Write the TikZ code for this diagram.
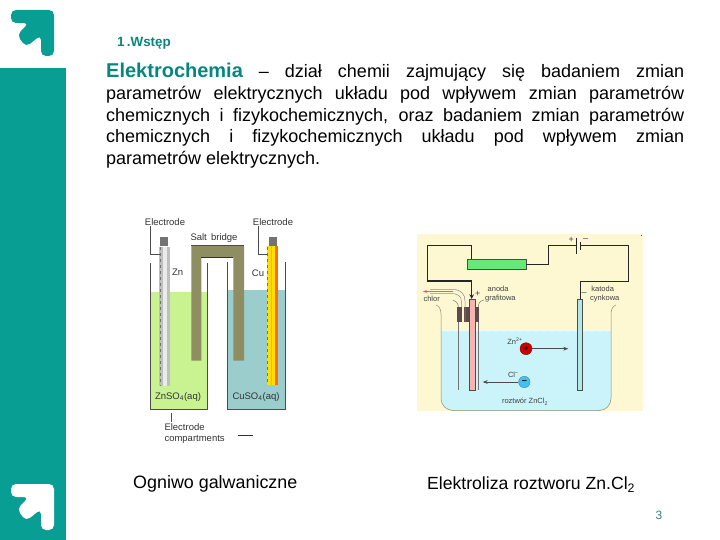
\documentclass[tikz,border=0pt]{standalone}
\usepackage{fontspec}
\setmainfont{Liberation Sans}
\usepackage{xcolor}
\usetikzlibrary{arrows.meta,decorations.pathmorphing}
\definecolor{tealbar}{HTML}{089E94}
\definecolor{zngreen}{HTML}{C9F291}
\definecolor{cublue}{HTML}{9BCDCD}
\definecolor{bridgeolive}{HTML}{8E8E62}
\definecolor{paleyellow}{HTML}{FDF8D2}
\definecolor{waterblue}{HTML}{CBF4FA}
\definecolor{boxgreen}{HTML}{66E87A}
\definecolor{anodepink}{HTML}{F6B4B0}
\definecolor{cathodecyan}{HTML}{B2E8E8}
\definecolor{stopperbrown}{HTML}{5E4A4A}
\definecolor{beakerline}{HTML}{8C8C70}
\newcommand{\fs}[1]{\fontsize{#1}{#1}\selectfont}
\begin{document}
\begin{tikzpicture}[x=1pt,y=-1pt,>=stealth,
  smalllabel/.style={inner sep=0pt,font=\fs{9.5},text=black!80},
  tinylabel/.style={inner sep=0pt,font=\fs{7.5},text=black!75},
  caption/.style={inner sep=0pt,font=\fs{17.9}},
  wire/.style={line width=1.1pt,black!85},
  thinwire/.style={line width=0.6pt,black!70},
  beaker/.style={line width=0.5pt,beakerline}]
\useasboundingbox (0,0) rectangle (720,540);
% side bar and arrows
\fill[tealbar](0,68)--(66,68)--(66,540)--(0,540)--cycle;
\fill[tealbar,rounded corners=5pt](11,10)--(54,10)--(54,56)--(41,56)--(41,35)--(26,47)--(17,35)--(29,23)--(11,23)--cycle;
\fill[white,rounded corners=5pt](11,484)--(54,484)--(54,530)--(41,530)--(41,509)--(26,521)--(17,509)--(29,497)--(11,497)--cycle;
\node[inner sep=0pt,anchor=west,text=tealbar!85!black,font=\fs{13.4}\bfseries](section) at (117,43.5){1\,.Wstęp};
% main paragraph
\node[inner sep=0pt,anchor=north west,text width=578pt,align=justify,font=\fontsize{18}{21.7}\selectfont](para) at (106,63)
{{\color{tealbar!85!black}\fontsize{20}{21.7}\selectfont\bfseries Elektrochemia} – dział chemii zajmujący się badaniem zmian
parametrów elektrycznych układu pod wpływem zmian parametrów
chemicznych i fizykochemicznych, oraz badaniem zmian parametrów
chemicznych i fizykochemicznych układu pod wpływem zmian
parametrów elektrycznych.};
% galvanic cell
\fill[zngreen](150,292)rectangle(207.7,409);
\fill[cublue](227,290)rectangle(285,409);
\draw[thinwire](150,263)--(150,409)--(207.7,409)--(207.7,263);
\draw[thinwire](227,262)--(227,409)--(285,409)--(285,262);
\fill[bridgeolive](191.3,360.7)--(191.3,245.7)--(244,245.7)--(244,360.7)--(233.3,360.7)--(233.3,257.3)--(201.3,257.3)--(201.3,360.7)--cycle;
\draw[black!70,line width=0.8pt](191.3,245.7)--(244,245.7);
\draw[black!80,line width=0.8pt](201.3,257.3)--(233.3,257.3);
\fill[black!25](159.3,247)rectangle(170,386);
\fill[black!8](163,247)rectangle(167,386);
\draw[black!55,dashed,line width=0.6pt](160,247)--(160,386);
\fill[black!55](160,237)rectangle(168,246);
\fill[orange!85!red](266.7,246)rectangle(278.3,385);
\fill[yellow!80!orange](266.7,246)rectangle(275,385);
\fill[orange!60!yellow](270.5,246)rectangle(272,385);
\draw[black!55,dashed,line width=0.6pt](267,247)--(267,385);
\fill[black!55](269,237)rectangle(277,246);
\coordinate(znwire) at (160,254);
\coordinate(cuwire) at (267,254);
\node[smalllabel](znelectrode) at (165,222){Electrode};
\node[smalllabel](cuelectrode) at (273,222){Electrode};
\node[smalllabel](saltbridge) at (214,238){Salt\, bridge};
\node[smalllabel](znlabel) at (177.7,272.7){Zn};
\node[smalllabel](culabel) at (258,273){Cu};
\node[smalllabel](znsalt) at (178,396.7){ZnSO\textsubscript{4}(aq)};
\node[smalllabel](cusalt) at (256,396.7){CuSO\textsubscript{4}(aq)};
\node[smalllabel,anchor=west,align=left,font=\fontsize{9.5}{11}\selectfont](compartments) at (164.3,433.5){Electrode\\compartments};
\draw[thinwire](150.7,226)|-(znwire);
\draw[thinwire](258.3,226)|-(cuwire);
\draw[thinwire](171,413)--(171,422);
\draw[line width=0.7pt,black!80](238,435.5)--(253,435.5);
% electrolysis
\fill[paleyellow](417,234)rectangle(643,411);
\fill[waterblue](441,331)[rounded corners=12pt]--(441,410.5)--(611,410.5)[sharp corners]--(611,331)--cycle;
\draw[white!60!waterblue,line width=1.2pt,decorate,decoration={snake,amplitude=0.5pt,segment length=8pt}](441,330.5)--(611,330.5);
\draw[beaker](436,305) .. controls (439,306) and (441,309) .. (441,314)[rounded corners=12pt]--(441,410.5)--(611,410.5)[sharp corners]--(611,314) .. controls (611,309) and (613,306) .. (616,305);
\node[draw=black!70,line width=0.4pt,fill=boxgreen,inner sep=0pt,minimum width=58.7pt,minimum height=9.4pt,anchor=north west](rheostat) at (467.3,259.3){};
\coordinate(wiretop) at (471.7,245.7);
\coordinate(anodewire) at (471.7,299);
\coordinate(cathodewire) at (580,299);
\coordinate(plateplus) at (576.7,245.7);
\coordinate(plateminus) at (580.7,245.7);
\draw[wire,->](rheostat.north west-|wiretop)|-(427.3,245.7)--(427.3,281)-|(anodewire);
\draw[wire](rheostat.east)-|(548.3,245.7)--(plateplus);
\draw[thinwire,line width=0.8pt,black!85](plateminus)--(628.7,245.7)--(628.7,281)-|(cathodewire);
\draw[line width=0.9pt,black!85](576.7,237.7)--(576.7,254.3);
\draw[line width=1.2pt,black!85](580.7,241.7)--(580.7,250);
\fill[stopperbrown](457,307)rectangle(478.5,321.7);
\fill[paleyellow](461.7,307)rectangle(464,321.7);
\draw[beaker,black!55](458.3,321.7)--(458.3,390);
\draw[beaker,black!55](478.3,321.7)--(478.3,390);
\draw[beaker,black!45](430,289.5)--(453,289.5) .. controls (461,289.5) and (465,294) .. (465,301)--(465,322);
\draw[beaker,black!45](430,293.5)--(450,293.5) .. controls (458,293.5) and (461.5,296) .. (461.5,302)--(461.5,307);
\draw[beaker,black!55](453,300) .. controls (456,301) and (458.3,303) .. (458.3,307);
\draw[beaker,black!55](478.3,307) .. controls (478.3,303) and (480,301) .. (484,300);
\draw[magenta!70,line width=0.9pt,-{Stealth[length=4pt]}](453,291.5)--(423,291.5);
\node[draw=black!70,line width=0.6pt,fill=anodepink,inner sep=0pt,minimum width=5.7pt,minimum height=90.7pt,anchor=north west](anode) at (469.3,299){};
\node[draw=black!70,line width=0.6pt,fill=cathodecyan,inner sep=0pt,minimum width=5.7pt,minimum height=90.7pt,anchor=north west](cathode) at (576.7,299){};
\node[circle,fill=red!80!black,draw=red!60!black,inner sep=0pt,minimum size=12pt,font=\fs{9}\bfseries](zincion) at (526,348.7){+};
\node[circle,fill=cyan!75!white,draw=cyan!60!black,inner sep=0pt,minimum size=11.4pt,font=\fs{9}\bfseries](chloride) at (524.3,382){–};
\coordinate(zinctip) at (568.3,348.7);
\coordinate(chloridetip) at (482.7,382);
\draw[black!70,line width=0.7pt,-{Stealth[length=5pt]}](zincion)--(zinctip);
\draw[black!70,line width=0.7pt,-{Stealth[length=5pt]}](chloride)--(chloridetip);
\node[tinylabel](chlorlabel) at (431.7,299.3){chlor};
\node[tinylabel,align=left,font=\fontsize{7.5}{9}\selectfont,anchor=west](anodelabel) at (485,294.5){\,\,anoda\\grafitowa};
\node[tinylabel,align=left,font=\fontsize{7.5}{9}\selectfont,anchor=west](cathodelabel) at (590,294.5){\,katoda\\cynkowa};
\node[tinylabel,font=\fs{9}](anodeplus) at (477.7,294){+};
\node[tinylabel,font=\fs{9}](cathodeminus) at (584,294.3){–};
\node[tinylabel,font=\fs{9}](batteryplus) at (571.3,240){+};
\node[tinylabel,font=\fs{9}](batteryminus) at (585.7,240){–};
\node[tinylabel](zinclabel) at (515,341){Zn\textsuperscript{2+}};
\node[tinylabel](chloridelabel) at (513.3,375){Cl\textsuperscript{–}};
\node[tinylabel](solution) at (525,401.7){roztwór ZnCl\textsubscript{2}};
\fill[black!70](641.3,235.3)rectangle(642.3,236.3);
% captions
\node[caption,anchor=west](galvanic) at (133,483.5){Ogniwo galwaniczne};
\node[caption,anchor=west,font=\fs{17.6}](electrolysis) at (427,484.5){Elektroliza roztworu Zn.Cl\textsubscript{2}};
\node[inner sep=0pt,text=tealbar!60!black!80,font=\fs{12}](pagenum) at (659,515){3};
\end{tikzpicture}
\end{document}
